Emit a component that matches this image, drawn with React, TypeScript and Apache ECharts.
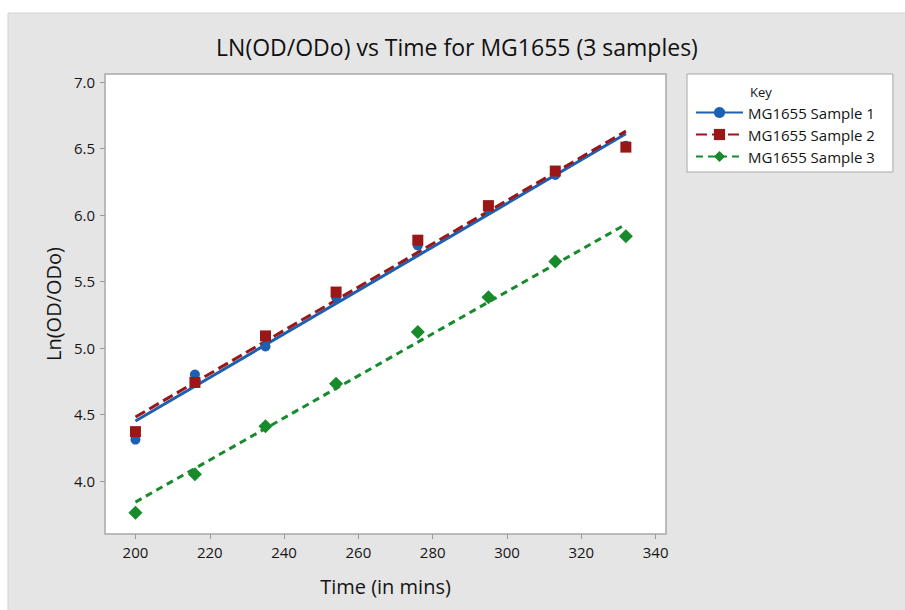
import React, { useEffect, useRef } from "react";
import * as echarts from "echarts";

const times = [200, 216, 235, 254, 276, 295, 313, 332];
const sample1 = [4.31, 4.8, 5.01, 5.38, 5.77, 6.04, 6.3, 6.52];
const sample2 = [4.37, 4.74, 5.09, 5.42, 5.81, 6.07, 6.33, 6.51];
const sample3 = [3.76, 4.05, 4.41, 4.73, 5.12, 5.38, 5.65, 5.84];

const fitX = [200, 332];
const fit1 = [4.45, 6.61];
const fit2 = [4.48, 6.63];
const fit3 = [3.84, 5.93];

const seriesNames = ["MG1655 Sample 1", "MG1655 Sample 2", "MG1655 Sample 3"];
const xTicks = [200, 220, 240, 260, 280, 300, 320, 340];
const yTicks = [4.0, 4.5, 5.0, 5.5, 6.0, 6.5, 7.0];

const BLUE = "#1d5fb0";
const RED = "#9b1717";
const GREEN = "#178a2c";
const FONT = "Open Sans";
const TXT = "#151515";

function pairs(xs: number[], ys: number[]) {
  return xs.map((x, i) => [x, ys[i]]);
}

export default function App() {
  const ref = useRef<HTMLDivElement>(null);
  useEffect(() => {
    document.body.style.margin = "0";
    const chart = echarts.init(ref.current!, null, { renderer: "svg" });
    const fits = [fit1, fit2, fit3];
    const pts = [sample1, sample2, sample3];
    const colors = [BLUE, RED, GREEN];
    const symbols = ["circle", "rect", "diamond"];
    const symSizes = [10, 11, 14];
    const dashes: any[] = ["solid", [11, 5], [7, 5]];
    const series: any[] = [];
    for (let i = 0; i < 3; i++) {
      series.push({
        name: seriesNames[i],
        type: "line",
        data: pairs(fitX, fits[i]),
        symbol: symbols[i],
        showSymbol: false,
        symbolSize: symSizes[i],
        itemStyle: { color: colors[i] },
        lineStyle: { color: colors[i], width: 3, type: dashes[i] },
        z: 2 + i * 0.1,
        silent: true,
      });
    }
    for (let i = 0; i < 3; i++) {
      series.push({
        name: seriesNames[i] + " data",
        type: "scatter",
        data: pairs(times, pts[i]),
        symbol: symbols[i],
        symbolSize: symSizes[i],
        itemStyle: { color: colors[i], opacity: 1 },
        z: 3 + i * 0.1,
      });
    }
    chart.setOption({
      animation: false,
      backgroundColor: "#ffffff",
      textStyle: { fontFamily: FONT },
      title: {
        text: "LN(OD/ODo) vs Time for MG1655 (3 samples)",
        left: 452,
        textAlign: "center",
        top: 30,
        textStyle: { fontFamily: FONT, fontSize: 23, fontWeight: "normal", color: "#111" },
      },
      graphic: [
        {
          type: "rect",
          z: -10,
          shape: { x: 8, y: 13, width: 900, height: 600 },
          style: { fill: "#e5e5e5", stroke: "#d2d2d2", lineWidth: 1 },
          silent: true,
        },
        {
          type: "text",
          left: 750,
          top: 85,
          z: 100,
          style: { text: "Key", fontFamily: FONT, fontSize: 13, fill: TXT },
        },
      ],
      legend: {
        data: seriesNames,
        orient: "vertical",
        left: 687,
        top: 74,
        padding: [31, 18, 8, 8],
        itemWidth: 47,
        itemHeight: 14,
        itemGap: 7,
        backgroundColor: "#ffffff",
        borderColor: "#a8a8a8",
        borderWidth: 1,
        borderRadius: 0,
        selectedMode: false,
        textStyle: { fontFamily: FONT, fontSize: 15, color: TXT },
      },
      grid: {
        show: true,
        left: 105,
        top: 74,
        right: 239,
        bottom: 76,
        backgroundColor: "#ffffff",
        borderColor: "#a8a8a8",
        borderWidth: 1.5,
      },
      xAxis: {
        type: "value",
        min: 191.8,
        max: 342.8,
        name: "Time (in mins)",
        nameLocation: "middle",
        nameGap: 42,
        nameTextStyle: { fontFamily: FONT, fontSize: 20, color: TXT },
        axisLine: { show: false },
        splitLine: { show: false },
        axisTick: { show: true, customValues: xTicks, length: 5, lineStyle: { color: "#999" } },
        axisLabel: { customValues: xTicks, fontFamily: FONT, fontSize: 15, color: TXT, margin: 10 },
      },
      yAxis: {
        type: "value",
        min: 3.6,
        max: 7.06,
        name: "Ln(OD/ODo)",
        nameLocation: "middle",
        nameGap: 40,
        nameTextStyle: { fontFamily: FONT, fontSize: 20, color: TXT },
        axisLine: { show: false },
        splitLine: { show: false },
        axisTick: { show: true, customValues: yTicks, length: 5, lineStyle: { color: "#999" } },
        axisLabel: {
          customValues: yTicks,
          fontFamily: FONT,
          fontSize: 15,
          color: TXT,
          margin: 10,
          formatter: (v: number) => v.toFixed(1),
        },
      },
      series,
    });
    return () => chart.dispose();
  }, []);
  return <div ref={ref} style={{ width: 905, height: 610 }} />;
}
